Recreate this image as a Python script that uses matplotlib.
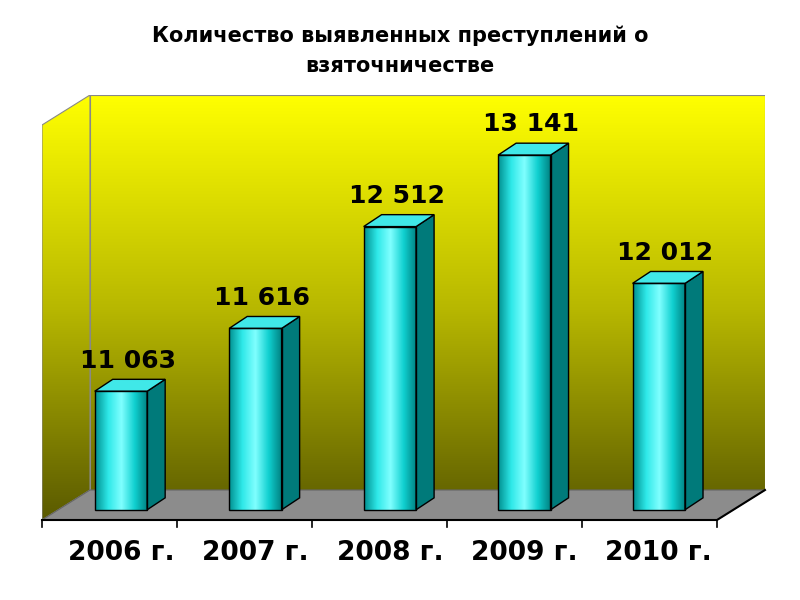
import numpy as np
import matplotlib.pyplot as plt
from matplotlib.patches import Polygon

years = ["2006 г.", "2007 г.", "2008 г.", "2009 г.", "2010 г."]
values = [11063, 11616, 12512, 13141, 12012]
labels = ["11 063", "11 616", "12 512", "13 141", "12 012"]

y0 = 9930
ytop = 13670
floor_dx, floor_dy = 0.357, 264
bar_dx, bar_dy = 0.134, 105
bar_base = 10020
bar_w = 0.39
x_left, x_right = -0.587, 4.79

fig = plt.figure(figsize=(8, 6), dpi=100)
ax = fig.add_axes([42 / 800, 1 - 520 / 600, (765 - 42) / 800, 425 / 600])
ax.set_xlim(x_left, x_right)
ax.set_ylim(y0, ytop)
ax.axis("off")

# back wall gradient
grad = np.linspace(1, 0, 256).reshape(-1, 1)
wall_cmap = plt.matplotlib.colors.LinearSegmentedColormap.from_list(
    "wall", ["#5a5a00", "#b8b800", "#ffff00"])
back = Polygon([(x_left + floor_dx, y0 + floor_dy), (x_right, y0 + floor_dy),
                (x_right, ytop), (x_left + floor_dx, ytop)], closed=True,
               fc="none", ec="#888888", lw=0.8)
ax.add_patch(back)
im = ax.imshow(grad, cmap=wall_cmap, aspect="auto",
               extent=[x_left, x_right, y0, ytop], zorder=0)
im.set_clip_path(back)

side = Polygon([(x_left, y0), (x_left + floor_dx, y0 + floor_dy),
                (x_left + floor_dx, ytop), (x_left, ytop - floor_dy)], closed=True,
               fc="none", ec="#888888", lw=0.8)
ax.add_patch(side)
im2 = ax.imshow(grad, cmap=wall_cmap, aspect="auto",
                extent=[x_left, x_left + floor_dx, y0, ytop], zorder=0)
im2.set_clip_path(side)

floor = Polygon([(x_left, y0), (x_right - floor_dx, y0), (x_right, y0 + floor_dy),
                 (x_left + floor_dx, y0 + floor_dy)], closed=True,
                fc="#8c8c8c", ec="#666666", lw=0.8, zorder=1)
ax.add_patch(floor)

# bars
x = np.arange(len(values))
bar_cmap = plt.matplotlib.colors.LinearSegmentedColormap.from_list(
    "bar", ["#008f8f", "#2ee8e8", "#80ffff", "#10d0d0", "#008080"])
hgrad = np.linspace(0, 1, 256).reshape(1, -1)
for xi, v, lab in zip(x, values, labels):
    l, r = xi - bar_w / 2, xi + bar_w / 2
    front = ax.bar(xi, v - bar_base, bottom=bar_base, width=bar_w,
                   color="none", edgecolor="black", lw=1, zorder=4)[0]
    img = ax.imshow(hgrad, cmap=bar_cmap, aspect="auto",
                    extent=[l, r, bar_base, v], zorder=3)
    img.set_clip_path(front)
    ax.add_patch(Polygon([(r, bar_base), (r + bar_dx, bar_base + bar_dy),
                          (r + bar_dx, v + bar_dy), (r, v)], closed=True,
                         fc="#007a7a", ec="black", lw=1, zorder=3))
    ax.add_patch(Polygon([(l, v), (r, v), (r + bar_dx, v + bar_dy),
                          (l + bar_dx, v + bar_dy)], closed=True,
                         fc="#40e8e8", ec="black", lw=1, zorder=3))
    ax.text(xi + 0.05, v + bar_dy + 60, lab, ha="center", va="bottom",
            fontsize=18, fontweight="bold", zorder=5)

# front axis line and ticks
ax.plot([x_left, x_right - floor_dx, x_right], [y0, y0, y0 + floor_dy],
        color="black", lw=1.5, zorder=5, clip_on=False)
for b in np.arange(len(values) + 1) - 0.5:
    bx = x_left + (b + 0.5) * (x_right - floor_dx - x_left) / len(values)
    ax.plot([bx, bx], [y0, y0 - 60], color="black", lw=1.2, clip_on=False)
for xi, yr in zip(x, years):
    ax.text(xi, y0 - 180, yr, ha="center", va="top", fontsize=19,
            fontweight="bold", clip_on=False)

fig.text(0.5, 0.915, "Количество выявленных преступлений о\nвзяточничестве",
         ha="center", va="center", fontsize=15, fontweight="bold",
         linespacing=1.6)

fig.savefig("out.png", dpi=100)
